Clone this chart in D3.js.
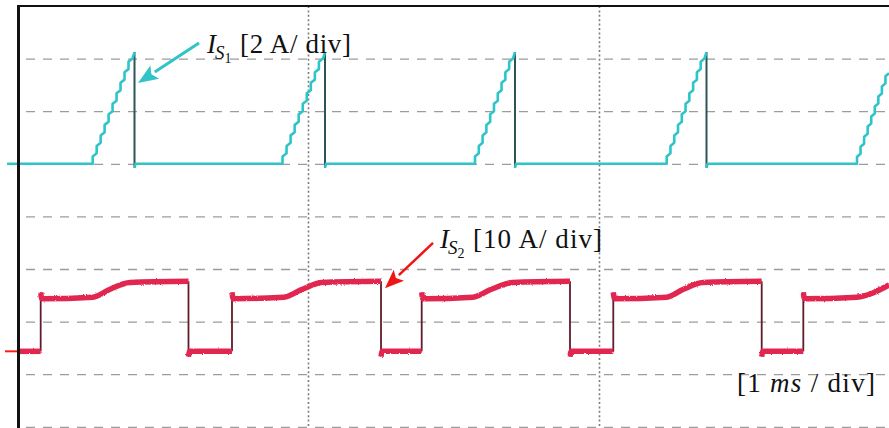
<!DOCTYPE html>
<html>
<head>
<meta charset="utf-8">
<script src="https://cdn.jsdelivr.net/npm/d3@7"></script>
<style>
  html, body { margin: 0; padding: 0; background: #fff; }
  svg { display: block; }
  text { font-family: "Liberation Serif", "Times New Roman", serif; fill: #111; }
</style>
</head>
<body>
<svg id="chart" width="889" height="428">
  <defs>
    <filter id="grain" x="-2%" y="-20%" width="104%" height="140%">
      <feTurbulence type="fractalNoise" baseFrequency="0.9" numOctaves="2" seed="3" result="n"/>
      <feDisplacementMap in="SourceGraphic" in2="n" scale="2.2" xChannelSelector="R" yChannelSelector="G"/>
    </filter>
  </defs>
</svg>
<script>
// ---- screen layout: time in ms, 8 vertical divisions ----
const timeDomain = [0, 3];              // ms across the visible screen
const timeGridTicks = [1, 2];            // dotted major time lines
const divGridTicks = [1, 2, 3, 4, 5, 6, 7, 8]; // dashed division lines (from top)

// ---- channel I_S1 : 2 A/div, zero level 3 div below the top ----
const s1Range = [6, -10];                // amps at top / bottom of the screen
const s1Points = [
  [0.0000, 0],
  [0.2601, 0], [0.3968, 4.0], [0.4038, 4.25], [0.4038, -0.15], [0.4075, 0],
  [0.9124, 0], [1.0514, 4.0], [1.0584, 4.25], [1.0584, -0.15], [1.0621, 0],
  [1.5739, 0], [1.7043, 4.0], [1.7113, 4.25], [1.7113, -0.15], [1.7150, 0],
  [2.2326, 0], [2.3624, 4.0], [2.3694, 4.25], [2.3694, -0.15], [2.3731, 0],
  [2.8866, 0], [2.9966, 3.44]
];

// ---- channel I_S2 : 10 A/div, zero level 6.565 div below the top ----
const s2Range = [65.65, -14.35];
const s2Points = [
  [0.0000, 0],
  [0.0814, 0], [0.0814, 11.2], [0.0855, 10.0], [0.2612, 10.3], [0.3200, 11.8], [0.3883, 13.1], [0.5893, 13.3], [0.5893, -1.0], [0.5935, 0],
  [0.7388, 0], [0.7388, 11.2], [0.7430, 10.0], [0.9175, 10.3], [0.9800, 11.8], [1.0481, 13.1], [1.2509, 13.3], [1.2509, -1.0], [1.2550, 0],
  [1.3907, 0], [1.3907, 11.2], [1.3950, 10.0], [1.5670, 10.3], [1.6300, 11.8], [1.7045, 13.1], [1.9003, 13.3], [1.9003, -1.0], [1.9045, 0],
  [2.0491, 0], [2.0491, 11.2], [2.0533, 10.0], [2.2326, 10.3], [2.2900, 11.8], [2.3574, 13.1], [2.5591, 13.3], [2.5591, -1.0], [2.5633, 0],
  [2.7021, 0], [2.7021, 11.2], [2.7063, 10.0], [2.8856, 10.3], [2.9966, 12.6]
];

// ---- annotation texts ----
const s1Label = { sub: "S", subsub: "1", scale: "[2 A/ div]" };
const s2Label = { sub: "S", subsub: "2", scale: "[10 A/ div]" };
const timeLabel = ["[1 ", "ms", " / div]"];

const COLORS = {
  s1: "#2fc4c8", s1Edge: "#2d5456",
  s2: "#e1264f", s2Edge: "#611c2b",
  s2Arrow: "#f01414",
  grid: "#9c9c9c", dotted: "#7c7c7c", frame: "#111"
};

const svg = d3.select("#chart");
const W = 889, H = 428;

const x = d3.scaleLinear().domain(timeDomain).range([17, 890]);
const yDiv = d3.scaleLinear().domain([0, 8]).range([6, 426.8]);
const yS1 = d3.scaleLinear().domain(s1Range).range(yDiv.range());
const yS2 = d3.scaleLinear().domain(s2Range).range(yDiv.range());

// ---- graticule ----
const hGrid = svg.append("g")
  .attr("transform", "translate(26,0)")
  .call(d3.axisLeft(yDiv).tickValues(divGridTicks).tickSize(-(W - 26)).tickFormat(""));
hGrid.select(".domain").remove();
hGrid.selectAll(".tick line")
  .attr("stroke", COLORS.grid).attr("stroke-width", 1.3).attr("stroke-dasharray", "9,8");

const vGrid = svg.append("g")
  .attr("transform", `translate(0,${yDiv(0)})`)
  .call(d3.axisTop(x).tickValues(timeGridTicks).tickSize(-(H - yDiv(0))).tickFormat(""));
vGrid.select(".domain").remove();
vGrid.selectAll(".tick line")
  .attr("stroke", COLORS.dotted).attr("stroke-width", 1.6).attr("stroke-dasharray", "2,2.4");

// ---- helpers ----
// split a trace at its vertical transitions: level runs + edges
function splitAtEdges(points) {
  const runs = [[points[0]]], edges = [];
  for (let i = 1; i < points.length; i++) {
    const p = points[i], q = points[i - 1];
    if (p[0] === q[0]) { edges.push([q, p]); runs.push([p]); }
    else runs[runs.length - 1].push(p);
  }
  return { runs, edges };
}

// curve that renders steep rising segments as the sampled staircase
function stairRamp(context) {
  let x0, y0, started = false;
  return {
    areaStart() {}, areaEnd() {},
    lineStart() { started = false; },
    lineEnd() {},
    point(px, py) {
      px = +px; py = +py;
      if (!started) { context.moveTo(px, py); started = true; }
      else {
        const dx = px - x0, dy = py - y0;
        if (dy < -20 && dx > 8) {
          const n = Math.max(1, Math.round(-dy / 10.5));
          for (let i = 0; i < n; i++) {
            const xa = x0 + dx * i / n, ya = y0 + dy * i / n;
            context.lineTo(xa, ya + (dy / n) * 0.7);
            context.lineTo(x0 + dx * (i + 1) / n, y0 + dy * (i + 1) / n);
          }
        } else context.lineTo(px, py);
      }
      x0 = px; y0 = py;
    }
  };
}

function drawTrace(points, yScale, color, edgeColor, width, edgeWidth, curve, filter) {
  const { runs, edges } = splitAtEdges(points);
  const g = svg.append("g");
  const line = d3.line().x(d => x(d[0])).y(d => yScale(d[1])).curve(curve);
  g.selectAll("line.edge").data(edges).join("line")
    .attr("class", "edge")
    .attr("x1", d => x(d[0][0])).attr("x2", d => x(d[1][0]))
    .attr("y1", d => yScale(d[0][1])).attr("y2", d => yScale(d[1][1]))
    .attr("stroke", edgeColor).attr("stroke-width", edgeWidth);
  const rg = g.append("g");
  if (filter) rg.attr("filter", filter);
  rg.selectAll("path.run").data(runs).join("path")
    .attr("class", "run")
    .attr("d", line)
    .attr("fill", "none").attr("stroke", color)
    .attr("stroke-width", width).attr("stroke-linejoin", "round");
  return g;
}

drawTrace(s2Points, yS2, COLORS.s2, COLORS.s2Edge, 5.5, 1.8, d3.curveMonotoneX, "url(#grain)");
drawTrace(s1Points, yS1, COLORS.s1, COLORS.s1Edge, 2.6, 2, stairRamp, null);

// ---- channel ground markers at the left edge ----
svg.append("line")
  .attr("x1", 7).attr("x2", 20).attr("y1", yS1(0)).attr("y2", yS1(0))
  .attr("stroke", COLORS.s1).attr("stroke-width", 2.5);
svg.append("line")
  .attr("x1", 5).attr("x2", 19).attr("y1", yS2(0)).attr("y2", yS2(0))
  .attr("stroke", "#ff1a1a").attr("stroke-width", 2);

// ---- frame (top and left edges) ----
svg.append("line").attr("x1", 17.5).attr("x2", W).attr("y1", 6).attr("y2", 6)
  .attr("stroke", COLORS.frame).attr("stroke-width", 2.2);
svg.append("line").attr("x1", 18.5).attr("x2", 18.5).attr("y1", 5).attr("y2", H)
  .attr("stroke", COLORS.frame).attr("stroke-width", 3);

// ---- arrows ----
function arrow(from, to, color, width, headLen, headHalf) {
  const [x1, y1] = from, [x2, y2] = to;
  const ang = Math.atan2(y2 - y1, x2 - x1);
  const bx = x2 - headLen * Math.cos(ang), by = y2 - headLen * Math.sin(ang);
  svg.append("line").attr("x1", x1).attr("y1", y1).attr("x2", bx).attr("y2", by)
    .attr("stroke", color).attr("stroke-width", width);
  const nx = -Math.sin(ang), ny = Math.cos(ang);
  svg.append("path")
    .attr("d", `M${x2},${y2}L${bx + nx * headHalf},${by + ny * headHalf}L${bx + 4 * Math.cos(ang)},${by + 4 * Math.sin(ang)}L${bx - nx * headHalf},${by - ny * headHalf}Z`)
    .attr("fill", color);
}
arrow([x(0.6254), yS1(4.59)], [x(0.4158), yS1(3.07)], COLORS.s1, 3, 20, 8);
arrow([x(1.4296), yS2(20.6)], [x(1.2646), yS2(12.0)], COLORS.s2Arrow, 2.5, 19, 7.5);

// ---- labels ----
function channelLabel(px, py, lab, scaleWidth) {
  const t = svg.append("text").attr("x", px).attr("y", py).attr("font-size", 27);
  t.append("tspan").attr("font-style", "italic").text("I");
  t.append("tspan").attr("font-style", "italic").attr("font-size", 19).attr("dy", 6).attr("dx", -1).text(lab.sub);
  t.append("tspan").attr("font-size", 14).attr("dy", 4).text(lab.subsub);
  svg.append("text").attr("x", px + 33).attr("y", py).attr("font-size", 27)
    .attr("textLength", scaleWidth).attr("lengthAdjust", "spacing")
    .text(lab.scale);
}
channelLabel(x(0.6254) + 8, yS1(4.2), s1Label, 111);
channelLabel(x(1.4296) + 7, yS2(19.6), s2Label, 129);

const tl = svg.append("text").attr("x", x(2.474)).attr("y", yDiv(7.338)).attr("font-size", 27)
  .attr("textLength", 138).attr("lengthAdjust", "spacing");
tl.append("tspan").text(timeLabel[0]);
tl.append("tspan").attr("font-style", "italic").text(timeLabel[1]);
tl.append("tspan").text(timeLabel[2]);
</script>
</body>
</html>
